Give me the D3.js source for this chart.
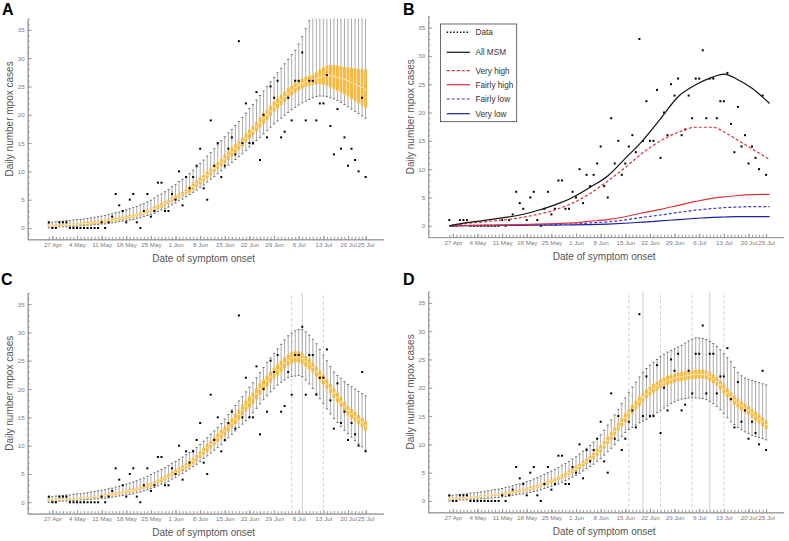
<!DOCTYPE html>
<html><head><meta charset="utf-8">
<script src="https://cdn.jsdelivr.net/npm/d3@7"></script>
<style>body{margin:0;background:#fff} text{font-family:Arial,"Liberation Sans",sans-serif}</style>
</head><body><svg id="c" width="789" height="541"></svg>
<script>
// ---- data: day index 0 = 26 Apr ... 90 = 25 Jul ----
const cases = [1,0,0,1,1,1,0,0,0,0, 0,0,0,0,0,1,0,1,2,6, 4,3,1,5,6,1,0,3,6,2, 3,8,8,3,3,6,5,10,4,9,
 7,9,11,14,7,5,19,11,15,9, 11,14,16,13,33,15,22,15,15,24, 12,20,16,25,23,26,16,17,23,19,
 26,26,31,19,26,26,19,22,22,27, 18,13,21,14,16,11,14,12,10,23,9];
const tickDays = [1,8,15,22,29,36,43,50,57,64,71,78,85,90];
const tickLabels = ["27 Apr","4 May","11 May","18 May","25 May","1 Jun","8 Jun","15 Jun","22 Jun","29 Jun","6 Jul","13 Jul","20 Jul","25 Jul"];
const yTicks = [0,5,10,15,20,25,30,35];

// Panel A: box-whisker
const medA = [0.4,0.4,0.5,0.5,0.5,0.6,0.6,0.6,0.7,0.7, 0.8,0.8,0.9,1.0,1.0,1.1,1.2,1.3,1.4,1.5, 1.6,1.7,1.9,2.0,2.1,2.3,2.5,2.7,2.9,3.1,
 3.4,3.7,4.0,4.3,4.6,5.0,5.3,5.7,6.0,6.4, 6.8,7.3,7.8,8.3,8.8,9.4,9.9,10.5,11.0,11.6, 12.2,12.8,13.4,14.0,14.6,15.2,15.9,16.6,17.2,17.9,
 18.6,19.3,20.0,20.7,21.4,22.0,22.6,23.2,23.8,24.3, 24.8,25.2,25.5,25.8,26.0,26.2,26.4,26.6,26.8,26.9, 26.9,26.8,26.6,26.4,26.2,26.0,25.7,25.4,25.1,24.8,24.4];
const q1A = [0.3,0.3,0.4,0.4,0.4,0.5,0.5,0.5,0.6,0.6, 0.6,0.6,0.7,0.8,0.8,0.9,1.0,1.1,1.2,1.3, 1.4,1.5,1.7,1.8,1.9,2.1,2.3,2.5,2.7,2.9,
 3.1,3.4,3.7,4.0,4.3,4.7,5.0,5.4,5.7,6.1, 6.3,6.8,7.3,7.8,8.3,8.9,9.4,10.0,10.5,11.1, 11.5,12.1,12.7,13.3,13.9,14.5,15.2,15.9,16.5,17.2,
 17.8,18.5,19.2,19.9,20.6,21.2,21.8,22.4,23.0,23.5, 24.0,24.4,24.7,25.0,25.2,25.4,25.5,25.5,25.4,25.2, 24.9,24.6,24.3,24.0,23.7,23.3,22.9,22.5,22.1,21.7,21.3];
const q3A = [0.5,0.5,0.6,0.6,0.6,0.7,0.7,0.7,0.8,0.8, 1.0,1.0,1.1,1.2,1.2,1.3,1.4,1.5,1.6,1.7, 1.8,1.9,2.1,2.2,2.3,2.5,2.7,2.9,3.1,3.3,
 3.7,4.0,4.3,4.6,4.9,5.3,5.6,6.0,6.3,6.7, 7.3,7.8,8.3,8.8,9.3,9.9,10.4,11.0,11.5,12.1, 12.9,13.5,14.1,14.7,15.3,15.9,16.6,17.3,17.9,18.6,
 19.4,20.1,20.8,21.5,22.2,22.8,23.4,24.0,24.6,25.1, 25.6,26.0,26.3,26.6,26.8,27.0,27.4,27.9,28.3,28.6, 28.7,28.7,28.6,28.5,28.4,28.3,28.2,28.1,28.0,28.0,27.9];
const whLoA = [0.0,0.1,0.1,0.2,0.2,0.2,0.3,0.3,0.3,0.4, 0.4,0.5,0.5,0.6,0.6,0.7,0.7,0.8,0.9,1.0, 1.1,1.2,1.3,1.4,1.5,1.7,1.8,2.0,2.2,2.4,
 2.6,2.9,3.2,3.4,3.7,4.1,4.4,4.8,5.1,5.5, 5.9,6.3,6.7,7.2,7.6,8.1,8.6,9.1,9.6,10.1, 10.6,11.1,11.6,12.1,12.6,13.1,13.7,14.3,14.8,15.4,
 16.0,16.6,17.2,17.8,18.4,18.9,19.4,19.9,20.4,20.9, 21.3,21.7,22.1,22.4,22.7,23.0,23.2,23.3,23.3,23.2, 23.0,22.8,22.5,22.2,21.8,21.4,21.0,20.6,20.2,19.8,19.4];
const whHiA = [0.9,1.0,1.1,1.1,1.2,1.3,1.3,1.4,1.5,1.5, 1.6,1.7,1.8,1.9,2.0,2.1,2.2,2.4,2.5,2.7, 2.8,3.0,3.2,3.4,3.6,3.8,4.1,4.3,4.6,4.9,
 5.3,5.7,6.0,6.4,6.8,7.3,7.7,8.2,8.6,9.1, 9.6,10.2,10.8,11.4,12.0,12.7,13.3,14.0,14.7,15.4, 16.1,16.8,17.4,18.1,18.8,19.5,20.3,21.1,21.8,22.6,
 23.4,24.2,25.0,25.8,26.6,27.4,28.2,29.0,29.8,30.6, 31.4,32.5,33.8,35.2,36.6,38,40,42,44,46, 47,48,49,50,51,52,53,54,55,56,57];

// Panel C
const medC = [0.4,0.4,0.5,0.5,0.5,0.6,0.6,0.6,0.7,0.7, 0.8,0.8,0.9,1.0,1.0,1.1,1.2,1.3,1.4,1.5, 1.6,1.7,1.9,2.0,2.1,2.3,2.5,2.7,2.9,3.1,
 3.4,3.7,4.0,4.3,4.6,5.0,5.3,5.7,6.0,6.4, 6.8,7.3,7.8,8.4,9.0,9.6,10.2,10.8,11.4,12.0, 12.6,13.3,14.0,14.7,15.5,16.3,17.0,17.7,18.4,19.2,
 20.0,20.7,21.4,22.1,22.8,23.4,24.0,24.6,25.1,25.5, 25.7,25.7,25.4,24.9,24.4,23.8,23.1,22.4,21.7,20.9, 20.1,19.3,18.5,17.7,16.9,16.2,15.6,15.1,14.6,14.1,13.5];
const boxHalfC = [0.1,0.1,0.1,0.1,0.1,0.1,0.1,0.1,0.1,0.1, 0.1,0.1,0.1,0.1,0.1,0.15,0.15,0.15,0.15,0.15, 0.15,0.15,0.2,0.2,0.2,0.2,0.2,0.2,0.25,0.25,
 0.25,0.25,0.3,0.3,0.3,0.35,0.35,0.35,0.4,0.4, 0.45,0.45,0.5,0.5,0.55,0.6,0.6,0.65,0.65,0.7, 0.7,0.75,0.75,0.8,0.8,0.85,0.85,0.9,0.9,0.9,
 0.9,0.9,0.9,0.9,0.9,0.9,0.9,0.9,0.9,0.9, 0.9,0.9,0.9,0.85,0.85,0.8,0.8,0.8,0.75,0.75, 0.75,0.75,0.75,0.75,0.75,0.75,0.75,0.75,0.75,0.75,0.75];
const whLoC = [0.0,0.1,0.1,0.2,0.2,0.2,0.3,0.3,0.3,0.4, 0.4,0.5,0.5,0.6,0.6,0.7,0.7,0.8,0.9,1.0, 1.1,1.2,1.3,1.4,1.5,1.7,1.8,2.0,2.2,2.4,
 2.6,2.9,3.2,3.4,3.7,4.1,4.4,4.8,5.1,5.5, 5.9,6.3,6.7,7.2,7.7,8.2,8.7,9.2,9.7,10.2, 10.8,11.4,12.0,12.6,13.2,13.8,14.4,15.1,15.8,16.6,
 17.4,18.1,18.8,19.5,20.1,20.7,21.2,21.6,22.0,22.2, 22.3,22.4,22.2,21.6,20.9,20.1,19.2,18.3,17.4,16.5, 15.6,14.8,14.1,13.4,12.7,12.1,11.5,10.9,10.3,9.8,9.2];
const whHiC = [0.9,1.0,1.1,1.1,1.2,1.3,1.3,1.4,1.5,1.5, 1.6,1.7,1.8,1.9,2.0,2.1,2.2,2.4,2.5,2.7, 2.8,3.0,3.2,3.4,3.6,3.8,4.1,4.3,4.6,4.9,
 5.2,5.5,5.8,6.1,6.5,6.9,7.2,7.6,8.0,8.4, 8.8,9.2,9.7,10.2,10.8,11.4,12.0,12.6,13.2,13.9, 14.7,15.5,16.3,17.1,17.9,18.7,19.5,20.3,21.1,22.0,
 22.9,23.8,24.7,25.5,26.3,27.1,27.9,28.7,29.4,29.9, 30.3,30.5,30.5,30.1,29.5,28.8,28.0,27.0,26.0,25.0, 24.0,23.0,22.4,21.9,21.3,20.8,20.4,20.0,19.6,19.2,18.8];

// Panel D
const medD = [0.4,0.4,0.5,0.5,0.5,0.6,0.6,0.7,0.7,0.8, 0.8,0.9,1.0,1.1,1.1,1.2,1.3,1.4,1.5,1.7, 1.8,1.9,2.1,2.2,2.4,2.6,2.8,3.0,3.2,3.5,
 3.7,4.0,4.3,4.6,5.0,5.3,5.7,6.1,6.6,7.0, 7.5,8.0,8.6,9.2,9.9,10.7,11.5,12.3,13.1,13.9, 14.7,15.5,16.2,16.9,17.6,18.3,18.9,19.4,19.9,20.3,
 20.7,21.0,21.3,21.5,21.7,21.9,22.0,22.1,22.2,22.3, 22.4,22.4,22.4,22.3,22.0,21.6,21.1,20.5,19.8,19.1, 18.4,17.8,17.3,16.8,16.4,16.0,15.5,15.0,14.5,14.0,13.5];
const boxHalfD = [0.1,0.1,0.1,0.1,0.1,0.1,0.1,0.1,0.1,0.1, 0.1,0.1,0.1,0.1,0.1,0.15,0.15,0.15,0.15,0.15, 0.15,0.15,0.2,0.2,0.2,0.2,0.2,0.2,0.25,0.25,
 0.25,0.25,0.3,0.3,0.3,0.35,0.35,0.35,0.4,0.4, 0.45,0.45,0.5,0.5,0.55,0.55,0.6,0.6,0.65,0.65, 0.7,0.7,0.7,0.7,0.7,0.7,0.7,0.7,0.7,0.7,
 0.7,0.7,0.7,0.7,0.7,0.7,0.7,0.7,0.7,0.7, 0.7,0.7,0.7,0.7,0.7,0.7,0.7,0.7,0.7,0.7, 0.7,0.7,0.7,0.7,0.7,0.7,0.7,0.7,0.7,0.7,0.7];
const whLoD = [0.0,0.1,0.1,0.2,0.2,0.2,0.3,0.3,0.3,0.4, 0.4,0.5,0.5,0.6,0.6,0.7,0.8,0.9,1.0,1.1, 1.2,1.3,1.4,1.5,1.7,1.8,2.0,2.2,2.4,2.6,
 2.8,3.0,3.3,3.6,3.9,4.2,4.5,4.9,5.3,5.7, 6.1,6.5,7.0,7.5,8.1,8.7,9.3,10.0,10.7,11.4, 12.1,12.6,13.0,13.4,13.8,14.1,14.4,14.8,15.2,15.6,
 16.0,16.4,16.8,17.2,17.5,17.8,18.0,18.1,18.2,18.2, 18.2,18.2,18.1,17.9,17.6,17.2,16.7,16.1,15.4,14.7, 14.0,13.5,13.0,12.6,12.2,11.9,11.6,11.4,11.2,11.0,10.8];
const whHiD = [0.9,1.0,1.1,1.1,1.2,1.3,1.4,1.4,1.5,1.6, 1.7,1.8,1.9,2.0,2.1,2.2,2.4,2.5,2.7,2.9, 3.0,3.2,3.4,3.6,3.9,4.1,4.4,4.7,5.0,5.3,
 5.6,5.9,6.3,6.6,7.0,7.4,7.8,8.3,8.8,9.3, 9.8,10.4,11.0,11.7,12.5,13.4,14.3,15.2,16.2,17.2, 18.2,19.2,20.1,21.0,21.9,22.7,23.4,24.0,24.5,25.0,
 25.5,25.9,26.3,26.6,26.9,27.2,27.5,27.9,28.3,28.6, 28.8,28.8,28.7,28.5,28.2,27.8,27.3,26.7,26.0,25.3, 24.6,23.6,22.7,22.1,21.7,21.5,21.3,21.1,20.9,20.7,20.5];

// Panel B: model curves, sampled days
const daysB = [0,5,10,15,20,25,30,35,40,45,50,55,60,65,70,75,78,82,86,91];
const allMSM    = [0,0.55,0.95,1.4,1.9,2.7,3.7,5.0,6.8,8.8,11.9,15.1,18.9,22.8,24.9,26.3,26.8,25.8,24.3,21.6];
const veryHigh  = [0,0.4,0.7,1.0,1.4,2.0,2.8,4.0,5.7,7.9,10.3,12.9,15.0,16.5,17.4,17.4,16.6,15.1,13.6,11.7];
const fairlyHigh= [0,0.05,0.1,0.15,0.2,0.3,0.4,0.5,0.8,1.1,1.6,2.3,2.9,3.6,4.3,4.9,5.1,5.35,5.5,5.55];
const fairlyLow = [0,0.03,0.05,0.1,0.15,0.2,0.25,0.3,0.5,0.7,1.05,1.5,1.9,2.35,2.75,3.05,3.2,3.3,3.4,3.4];
const veryLow   = [0,0.02,0.03,0.05,0.08,0.1,0.12,0.15,0.2,0.3,0.45,0.65,0.85,1.1,1.3,1.5,1.55,1.6,1.6,1.6];
const legendNames = ["Data","All MSM","Very high","Fairly high","Fairly low","Very low"];

// ---- drawing ----
const svg = d3.select("#c");
const W = 355.5, H = 220.8;
const ORANGE = "#f9b93e";
const panels = [
 {id:"A", x0:27.7, yb:239.3, lx:2, ly:15, med:medA, q1:q1A, q3:q3A, lo:whLoA, hi:whHiA},
 {id:"B", x0:428.2, yb:237.1, lx:403, ly:15, lines:true},
 {id:"C", x0:27.7, yb:513.6, lx:1, ly:285, med:medC, half:boxHalfC, lo:whLoC, hi:whHiC, solid:[72], dashed:[69,78]},
 {id:"D", x0:428.2, yb:512.3, lx:403, ly:285, med:medD, half:boxHalfD, lo:whLoD, hi:whHiD, solid:[55,74], dashed:[51,60,69,78]}
];
const defs = svg.append("defs");

panels.forEach(p => {
  const x = d3.scaleLinear().domain([-6,95]).range([p.x0, p.x0+W]);
  const y = d3.scaleLinear().domain([-2,37]).range([p.yb, p.yb-H]);
  const g = svg.append("g");
  defs.append("clipPath").attr("id","clip"+p.id).append("rect")
    .attr("x",p.x0).attr("y",p.yb-H).attr("width",W).attr("height",H);

  const styleAxis = sel => {
    sel.select(".domain").attr("stroke","#9a9a9a");
    sel.selectAll(".tick line").attr("stroke","#9a9a9a");
    sel.selectAll("text").attr("fill","#7a7a7a").style("font-size","6.2px")
       .style("font-family","Arial, 'Liberation Sans', sans-serif");
  };
  g.append("g").attr("transform",`translate(${p.x0},0)`)
    .call(d3.axisLeft(y).tickValues(d3.range(-2,38)).tickSize(-2).tickSizeOuter(0).tickFormat(""))
    .call(styleAxis);
  g.append("g").attr("transform",`translate(${p.x0},0)`)
    .call(d3.axisLeft(y).tickValues(yTicks).tickSize(-4).tickSizeOuter(0).tickPadding(3))
    .call(styleAxis);
  g.append("g").attr("transform",`translate(0,${p.yb})`)
    .call(d3.axisBottom(x).tickValues(cases.map((c,i)=>i)).tickSize(-2.5).tickSizeOuter(0).tickFormat(""))
    .call(styleAxis);
  g.append("g").attr("transform",`translate(0,${p.yb})`)
    .call(d3.axisBottom(x).tickValues(tickDays).tickSize(-3.5).tickSizeOuter(0).tickPadding(3.5)
      .tickFormat((d,i)=>tickLabels[i]))
    .call(styleAxis);

  g.append("text").attr("transform",`translate(${p.x0-14.3},${p.yb-H/2-10}) rotate(-90)`)
    .attr("text-anchor","middle").attr("fill","#555").style("font-size","10px").text("Daily number mpox cases");
  g.append("text").attr("x",p.x0+176).attr("y",p.yb+22.5).attr("text-anchor","middle")
    .attr("fill","#555").style("font-size","10px").text("Date of symptom onset");
  g.append("text").attr("x",p.lx).attr("y",p.ly).attr("fill","#000")
    .style("font-size","16px").style("font-weight","bold").text(p.id);

  const plot = g.append("g").attr("clip-path",`url(#clip${p.id})`);

  if (p.lines) {
    plot.selectAll("rect.pt").data(cases).join("rect")
      .attr("x",(d,i)=>x(i)-1).attr("y",d=>y(d)-1).attr("width",2).attr("height",2).attr("fill","#000");
    const series = [
      {v:veryLow, c:"#1f1fa8", dash:null},
      {v:fairlyLow, c:"#3b3bc4", dash:"3,2"},
      {v:fairlyHigh, c:"#e0303a", dash:null},
      {v:veryHigh, c:"#e0303a", dash:"3,2"},
      {v:allMSM, c:"#111", dash:null}
    ];
    const line = d3.line().x((d,i)=>x(daysB[i])).y(d=>y(d)).curve(d3.curveMonotoneX);
    series.forEach(s=>{
      plot.append("path").attr("d",line(s.v)).attr("fill","none").attr("stroke",s.c)
        .attr("stroke-width",1.2).attr("stroke-dasharray",s.dash);
    });
    const lx = p.x0+12.3, ly = p.yb-H+7.7;
    const lg = g.append("g");
    lg.append("rect").attr("x",lx).attr("y",ly).attr("width",76.2).attr("height",97.7)
      .attr("fill","#fff").attr("stroke","#444").attr("stroke-width",0.8);
    const rows = [
      {t:legendNames[0], c:"#000", dash:"1.4,1.9", w:1.6, dy:8.3},
      {t:legendNames[1], c:"#111", dash:null, w:1.2, dy:28.3},
      {t:legendNames[2], c:"#e0303a", dash:"3,2", w:1.2, dy:46.7},
      {t:legendNames[3], c:"#e0303a", dash:null, w:1.2, dy:60.7},
      {t:legendNames[4], c:"#3b3bc4", dash:"3,2", w:1.2, dy:75},
      {t:legendNames[5], c:"#1f1fa8", dash:null, w:1.2, dy:89.7}
    ];
    rows.forEach(r=>{
      lg.append("line").attr("x1",lx+6.2).attr("x2",lx+29.5).attr("y1",ly+r.dy).attr("y2",ly+r.dy)
        .attr("stroke",r.c).attr("stroke-width",r.w).attr("stroke-dasharray",r.dash);
      lg.append("text").attr("x",lx+35).attr("y",ly+r.dy+2.9).attr("fill","#333")
        .style("font-size","8.2px").text(r.t);
    });
  } else {
    const q1 = p.q1 || p.med.map((m,i)=>m-p.half[i]);
    const q3 = p.q3 || p.med.map((m,i)=>m+p.half[i]);
    (p.dashed||[]).forEach(d=>{
      plot.append("line").attr("x1",x(d)).attr("x2",x(d)).attr("y1",y(-2)).attr("y2",y(37))
        .attr("stroke","#c8c8c8").attr("stroke-width",0.9).attr("stroke-dasharray","3,2.5");
    });
    (p.solid||[]).forEach(d=>{
      plot.append("line").attr("x1",x(d)).attr("x2",x(d)).attr("y1",y(-2)).attr("y2",y(37))
        .attr("stroke","#c8c8c8").attr("stroke-width",0.9);
    });
    const idx = p.med.map((m,i)=>i);
    plot.selectAll("line.wh").data(idx).join("line")
      .attr("x1",i=>x(i)).attr("x2",i=>x(i)).attr("y1",i=>y(p.lo[i])).attr("y2",i=>y(p.hi[i]))
      .attr("stroke","#a0a0a0").attr("stroke-width",0.9);
    ["lo","hi"].forEach(k=>{
      plot.selectAll("line.cap"+k).data(idx).join("line")
        .attr("x1",i=>x(i)-1.1).attr("x2",i=>x(i)+1.1).attr("y1",i=>y(p[k][i])).attr("y2",i=>y(p[k][i]))
        .attr("stroke","#555").attr("stroke-width",0.8);
    });
    plot.selectAll("rect.bx").data(idx).join("rect")
      .attr("x",i=>x(i)-1.45).attr("width",2.9)
      .attr("y",i=>y(q3[i])-0.4).attr("height",i=>y(q1[i])-y(q3[i])+0.8)
      .attr("fill",ORANGE);
    plot.selectAll("line.md").data(idx).join("line")
      .attr("x1",i=>x(i)-1.2).attr("x2",i=>x(i)+1.2).attr("y1",i=>y(p.med[i])).attr("y2",i=>y(p.med[i]))
      .attr("stroke","#fff").attr("stroke-width",0.7);
    plot.selectAll("rect.pt").data(cases).join("rect")
      .attr("x",(d,i)=>x(i)-1).attr("y",d=>y(d)-1).attr("width",2).attr("height",2).attr("fill","#000");
  }
});
</script></body></html>
